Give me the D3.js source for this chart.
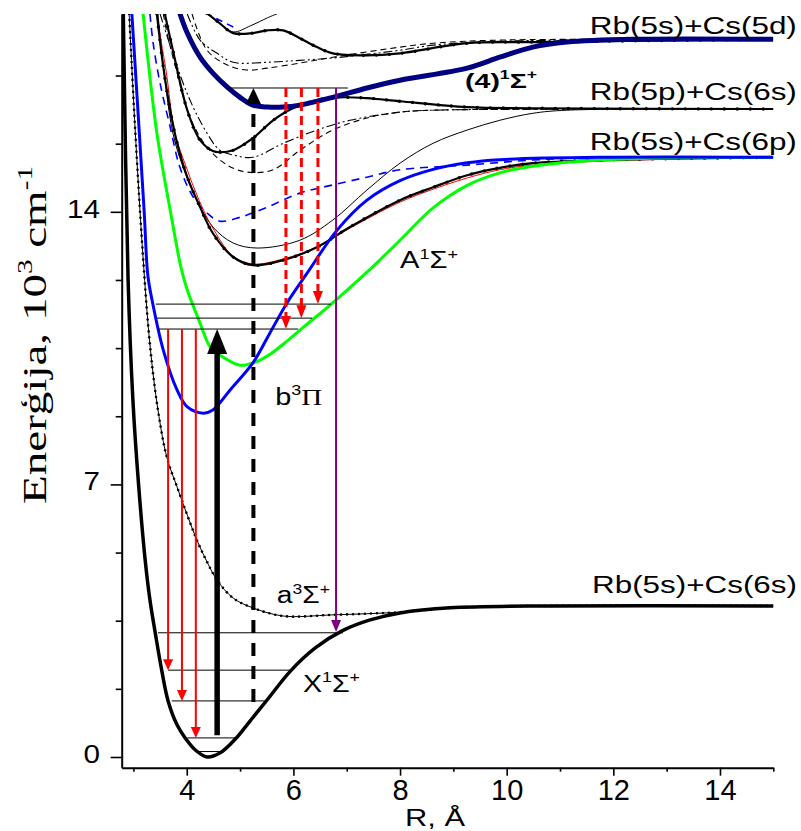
<!DOCTYPE html>
<html>
<head>
<meta charset="utf-8">
<script src="https://cdn.jsdelivr.net/npm/d3@7"></script>
<style>
  body { margin: 0; background: #fff; }
</style>
</head>
<body>
<svg id="chart" width="801" height="831"></svg>
<script>
// axis ticks
const xMajor = [4, 6, 8, 10, 12, 14];
const xMinor = [3, 5, 7, 9, 11, 13, 15];
const yMajor = [0, 7, 14];
const yMinor = [1.75, 3.5, 5.25, 8.75, 10.5, 12.25, 15.75, 17.5];

// potential curves, [R (Å), E (10^3 cm-1)]
const xState = [[2.81,19.08],[2.90,12.25],[2.99,9.17],[3.09,7.11],[3.22,5.06],[3.31,4.03],[3.41,3.18],[3.53,2.23],[3.65,1.44],[3.82,0.82],[3.97,0.49],[4.16,0.18],[4.38,0],[4.62,0.10],[4.91,0.46],[5.19,0.93],[5.51,1.47],[5.94,2.20],[6.41,2.80],[6.93,3.25],[7.44,3.52],[8.00,3.70],[8.94,3.83],[10.81,3.88],[15,3.88]];
const aState = [[2.92,19.08],[3.03,16.17],[3.18,12.84],[3.31,10.58],[3.46,8.91],[3.63,7.68],[3.82,6.93],[4.01,6.21],[4.19,5.57],[4.38,5.01],[4.57,4.54],[4.87,4.08],[5.24,3.83],[5.81,3.62],[6.74,3.65],[8.00,3.72],[8.94,3.83],[10.81,3.88],[15,3.88]];
const bState = [[2.97,19.10],[3.20,14.04],[3.27,12.37],[3.35,11.73],[3.56,10.45],[3.82,9.42],[4.01,8.99],[4.31,8.83],[4.49,8.91],[4.81,9.42],[5.24,10.12],[5.56,10.89],[5.88,11.66],[6.26,12.43],[6.82,13.53],[7.38,14.30],[8.00,14.80],[8.62,15.09],[9.26,15.26],[9.87,15.34],[11.75,15.40],[15,15.40]];
const aSigma = [[3.18,19.10],[3.44,16.02],[3.69,14.04],[3.89,12.58],[4.01,11.99],[4.25,11.14],[4.44,10.53],[4.68,10.27],[5.00,10.06],[5.32,10.16],[5.60,10.38],[5.88,10.68],[6.20,11.05],[6.71,11.63],[7.38,12.45],[8.00,13.27],[8.62,14.10],[9.26,14.68],[9.87,15.00],[10.49,15.17],[11.75,15.33],[15,15.40]];
const sigma4 = [[3.87,19.10],[4.01,18.59],[4.25,17.97],[4.49,17.56],[4.76,17.20],[5.00,16.94],[5.24,16.74],[5.51,16.69],[5.81,16.69],[6.12,16.74],[6.74,16.94],[7.38,17.18],[8.00,17.38],[9.26,17.69],[9.87,17.97],[10.49,18.23],[11.13,18.36],[12.37,18.43],[15,18.43]];
const cThick = [[3.44,19.08],[3.56,17.72],[3.69,16.61],[3.82,15.76],[4.01,14.89],[4.25,14.12],[4.49,13.45],[4.87,12.84],[5.24,12.63],[5.81,12.76],[6.44,13.09],[7.06,13.61],[8.00,14.30],[8.62,14.63],[9.26,14.94],[9.87,15.13],[10.49,15.25],[11.75,15.33],[15,15.40]];
const cThin = [[3.46,19.08],[3.57,17.64],[3.74,16.02],[3.93,15.15],[4.19,14.30],[4.49,13.61],[4.87,13.20],[5.32,13.07],[6.12,13.27],[6.74,13.79],[7.38,14.56],[8.00,15.25],[8.62,15.76],[9.26,16.10],[9.87,16.35],[10.49,16.53],[11.13,16.61],[15,16.64]];
const redThin = [[3.43,19.08],[3.61,17.64],[3.78,16.02],[3.99,15.15],[4.23,14.30],[4.51,13.53],[4.87,12.86],[5.24,12.66],[5.81,12.79],[6.44,13.09],[7.06,13.58],[8.00,14.25],[8.62,14.58],[9.26,14.87],[9.87,15.08],[10.49,15.20],[11.75,15.30],[15,15.40]];
const blueDashed = [[3.31,19.08],[3.37,18.33],[3.50,17.30],[3.69,16.17],[3.87,15.15],[4.12,14.38],[4.38,13.97],[4.62,13.76],[5.00,13.86],[5.51,14.12],[6.12,14.48],[6.74,14.69],[7.38,14.89],[8.00,15.08],[9.26,15.20],[10.49,15.33],[11.75,15.40],[15,15.40]];
const pHump = [[3.59,19.08],[3.74,18.15],[4.01,16.61],[4.25,15.84],[4.49,15.56],[4.62,15.53],[4.87,15.58],[5.24,15.89],[5.62,16.35],[5.99,16.66],[6.44,16.87],[6.87,16.94],[7.38,16.92],[8.00,16.84],[9.26,16.69],[10.49,16.66],[15,16.64]];
const pDashDot = [[3.50,19.08],[3.78,17.89],[4.06,16.87],[4.38,16.02],[4.62,15.58],[4.87,15.46],[5.24,15.40],[5.81,15.76],[6.44,16.10],[7.06,16.35],[8.00,16.56],[8.62,16.61],[15,16.64]];
const pDashed = [[3.56,19.08],[3.63,18.59],[3.82,17.56],[4.06,16.43],[4.38,15.66],[4.76,15.20],[5.13,15.02],[5.62,15.08],[6.12,15.58],[6.74,16.10],[7.38,16.41],[8.00,16.56],[8.62,16.61],[15,16.64]];
const dThick = [[4.38,19.10],[4.62,18.84],[4.87,18.59],[5.24,18.59],[5.51,18.66],[5.81,18.66],[6.12,18.46],[6.44,18.23],[6.74,18.07],[7.38,18.02],[8.00,18.07],[9.26,18.33],[10.49,18.36],[15,18.43]];
const dThin = [[4.38,19.10],[4.62,18.84],[4.87,18.62],[5.20,18.78],[5.51,18.98],[5.72,19.10]];
const dDashDot = [[4.01,19.08],[4.25,18.41],[4.57,18.07],[4.87,17.84],[5.51,17.84],[6.12,17.89],[6.74,17.95],[8.00,18.15],[8.62,18.28],[9.87,18.38],[15,18.43]];
const dDashed = [[4.10,19.08],[4.38,18.15],[4.76,17.77],[5.13,17.64],[5.51,17.69],[6.12,17.82],[6.74,17.97],[8.00,18.23],[8.62,18.33],[9.87,18.41],[15,18.43]];
const dBlueDash = [[4.35,19.10],[4.62,18.92],[4.91,18.72]];

// vibrational levels [E, R left, R right]
const levelsX = [[0.14,4.16,4.63],[0.49,4.01,4.91],[1.44,3.72,5.51],[2.23,3.65,5.97],[3.19,3.46,6.93]];
const levelsA = [[10.99,3.46,6.09],[11.27,3.44,6.35],[11.63,3.42,6.70]];
const levelsTop = [[17.18,4.74,7.02]];

// transitions [R, E from, E to]
const pumpA = [[4.57,0.56,10.99]];
const pumpTop = [[5.25,1.41,17.18]];
const fluoX = [[3.65,10.99,2.23],[3.91,10.99,1.44],[4.17,10.99,0.49]];
const fluoA = [[5.86,17.18,10.99],[6.15,17.18,11.27],[6.46,17.18,11.63]];
const fluoTop = [[6.80,17.18,3.21]];

const svg = d3.select("#chart");
const x = d3.scaleLinear().domain([2.78, 15]).range([121.7, 773.3]);
const y = d3.scaleLinear().domain([-0.275, 19.08]).range([767.7, 14]);
const sans = "'Liberation Sans', Arial, sans-serif";
const serif = "'Liberation Serif', 'Times New Roman', serif";

svg.append("clipPath").attr("id", "plot")
  .append("rect").attr("x", x.range()[0]).attr("y", y.range()[1])
  .attr("width", x.range()[1] - x.range()[0]).attr("height", y.range()[0] - y.range()[1]);

const plot = svg.append("g").attr("clip-path", "url(#plot)");
const line = d3.line().x(d => x(d[0])).y(d => y(d[1])).curve(d3.curveCatmullRom.alpha(0.5));

const curves = [
  {pts: dDashed, color: "#000", w: 1.1, dash: "6,4"},
  {pts: dDashDot, color: "#000", w: 1.1, dash: "9,3,2,3,2,3"},
  {pts: dBlueDash, color: "#0000ff", w: 1.5, dash: "7,5"},
  {pts: dThin, color: "#000", w: 1},
  {pts: dThick, color: "#000", w: 2.2, dots: 13},
  {pts: pDashed, color: "#000", w: 1.1, dash: "6,4"},
  {pts: pDashDot, color: "#000", w: 1.1, dash: "9,3,2,3,2,3"},
  {pts: pHump, color: "#000", w: 2.2, dots: 13},
  {pts: cThin, color: "#000", w: 1},
  {pts: blueDashed, color: "#0000ff", w: 1.6, dash: "8,6"},
  {pts: redThin, color: "#ff0000", w: 1},
  {pts: cThick, color: "#000", w: 2.2, dots: 13},
  {pts: aState, color: "#000", w: 1, dots: 6},
  {pts: aSigma, color: "#00ff00", w: 3},
  {pts: bState, color: "#0000ff", w: 3},
  {pts: sigma4, color: "#000080", w: 5},
  {pts: xState, color: "#000", w: 3.5}
];

curves.forEach(c => {
  const p = plot.append("path").datum(c.pts)
    .attr("d", line).attr("fill", "none")
    .attr("stroke", c.color).attr("stroke-width", c.w)
    .attr("stroke-dasharray", c.dash || null);
  if (c.dots) {
    const node = p.node(), L = node.getTotalLength();
    for (let s = 0; s < L; s += c.dots) {
      const q = node.getPointAtLength(s);
      plot.append("circle").attr("cx", q.x).attr("cy", q.y)
        .attr("r", c.dots > 8 ? 1.7 : 1.3).attr("fill", c.color);
    }
  }
});

// vibrational levels
const levels = svg.append("g");
[...levelsX, ...levelsA, ...levelsTop].forEach(l => {
  levels.append("line")
    .attr("x1", x(l[1])).attr("x2", x(l[2]))
    .attr("y1", y(l[0])).attr("y2", y(l[0]))
    .attr("stroke", "#000").attr("stroke-width", 1);
});

// arrows
const arrows = svg.append("g");
function arrow(t, o) {
  const xs = x(t[0]), y0 = y(t[1]), y1 = y(t[2]);
  const dir = y1 < y0 ? 1 : -1;
  const base = y1 + dir * o.len;
  arrows.append("line").attr("x1", xs).attr("x2", xs)
    .attr("y1", y0).attr("y2", base - dir * 1)
    .attr("stroke", o.color).attr("stroke-width", o.w)
    .attr("stroke-dasharray", o.dash || null);
  arrows.append("path")
    .attr("d", `M${xs},${y1}L${xs - o.hw / 2},${base}L${xs + o.hw / 2},${base}Z`)
    .attr("fill", o.color);
}
pumpA.forEach(t => arrow(t, {color: "#000", w: 5.5, len: 25, hw: 20}));
pumpTop.forEach(t => arrow(t, {color: "#000", w: 4, len: 16, hw: 15, dash: "13,10"}));
fluoX.forEach(t => arrow(t, {color: "#ff0000", w: 2, len: 11, hw: 10}));
fluoA.forEach(t => arrow(t, {color: "#ff0000", w: 3, len: 13, hw: 10, dash: "9,5"}));
fluoTop.forEach(t => arrow(t, {color: "#800080", w: 2, len: 12, hw: 10}));

// axes
const xAxis = svg.append("g").attr("transform", `translate(0,${y.range()[0]})`)
  .call(d3.axisBottom(x).tickValues(xMajor).tickSize(8).tickSizeOuter(0).tickFormat(d3.format("d")));
svg.append("g").attr("transform", `translate(0,${y.range()[0]})`)
  .call(d3.axisBottom(x).tickValues(xMinor).tickSize(4).tickSizeOuter(0).tickFormat(""))
  .call(g => g.select(".domain").remove());
const yAxis = svg.append("g").attr("transform", `translate(${x.range()[0]},0)`)
  .call(d3.axisLeft(y).tickValues(yMajor).tickSize(11).tickSizeOuter(0).tickFormat(d3.format("d")));
svg.append("g").attr("transform", `translate(${x.range()[0]},0)`)
  .call(d3.axisLeft(y).tickValues(yMinor).tickSize(6).tickSizeOuter(0).tickFormat(""))
  .call(g => g.select(".domain").remove());

svg.selectAll(".domain").attr("stroke", "#000").attr("stroke-width", 2);
svg.selectAll(".tick line").attr("stroke", "#000").attr("stroke-width", 1.6);
xAxis.selectAll("text").attr("y", 32.3).attr("dy", 0)
  .attr("font-family", sans).attr("font-size", 29).attr("fill", "#000");
yAxis.selectAll("text").attr("x", -21.7).attr("dy", 0).attr("y", 5.5)
  .attr("font-family", sans).attr("font-size", 25).attr("fill", "#000")
  .attr("textLength", d => String(d).length * 16.5).attr("lengthAdjust", "spacingAndGlyphs");

// rich text helper: parts = [[text, kind]], kind: "" | "sup" | "serif"
function rich(g, parts, fs, family, opts = {}) {
  const t = g.append("text").attr("font-family", family).attr("font-size", fs)
    .attr("font-weight", opts.bold ? "bold" : null).attr("fill", "#000");
  let shift = 0;
  parts.forEach(([s, kind]) => {
    const ts = t.append("tspan").text(s);
    const target = kind === "sup" ? -fs * 0.42 : 0;
    if (target !== shift) { ts.attr("dy", target - shift); shift = target; }
    if (kind === "sup") ts.attr("font-size", fs * 0.62);
    if (kind === "serif") ts.attr("font-family", serif);
  });
  if (opts.len) t.attr("textLength", opts.len).attr("lengthAdjust", "spacingAndGlyphs");
  return t;
}

const labelLayer = svg.append("g");
const labels = [
  {at: [11.56, 18.56], parts: [["Rb(5s)+Cs(5d)"]], len: 207},
  {at: [11.56, 16.87], parts: [["Rb(5p)+Cs(6s)"]], len: 207},
  {at: [11.56, 15.58], parts: [["Rb(5s)+Cs(6p)"]], len: 207},
  {at: [11.60, 4.21], parts: [["Rb(5s)+Cs(6s)"]], len: 205},
  {at: [9.22, 17.18], parts: [["(4)"], ["1", "sup"], ["Σ"], ["+", "sup"]], len: 72, bold: true, fs: 21},
  {at: [8.00, 12.55], parts: [["A"], ["1", "sup"], ["Σ"], ["+", "sup"]], len: 58},
  {at: [5.66, 9.04], parts: [["b"], ["3", "sup"], ["Π", "serif"]], len: 47},
  {at: [5.69, 3.95], parts: [["a"], ["3", "sup"], ["Σ"], ["+", "sup"]], len: 53},
  {at: [6.18, 1.67], parts: [["X"], ["1", "sup"], ["Σ"], ["+", "sup"]], len: 57}
];
labels.forEach(l => {
  rich(labelLayer, l.parts, l.fs || 23, sans, {len: l.len, bold: l.bold})
    .attr("x", x(l.at[0])).attr("y", y(l.at[1]));
});

// axis titles
rich(svg, [["R, Å"]], 23, sans, {len: 60})
  .attr("x", 405).attr("y", 826);
rich(svg, [["Enerģija, 10"], ["3", "sup"], [" cm"], ["-1", "sup"]], 33, serif, {len: 338})
  .attr("text-anchor", "middle")
  .attr("transform", "translate(46,335) rotate(-90)");
</script>
</body>
</html>
